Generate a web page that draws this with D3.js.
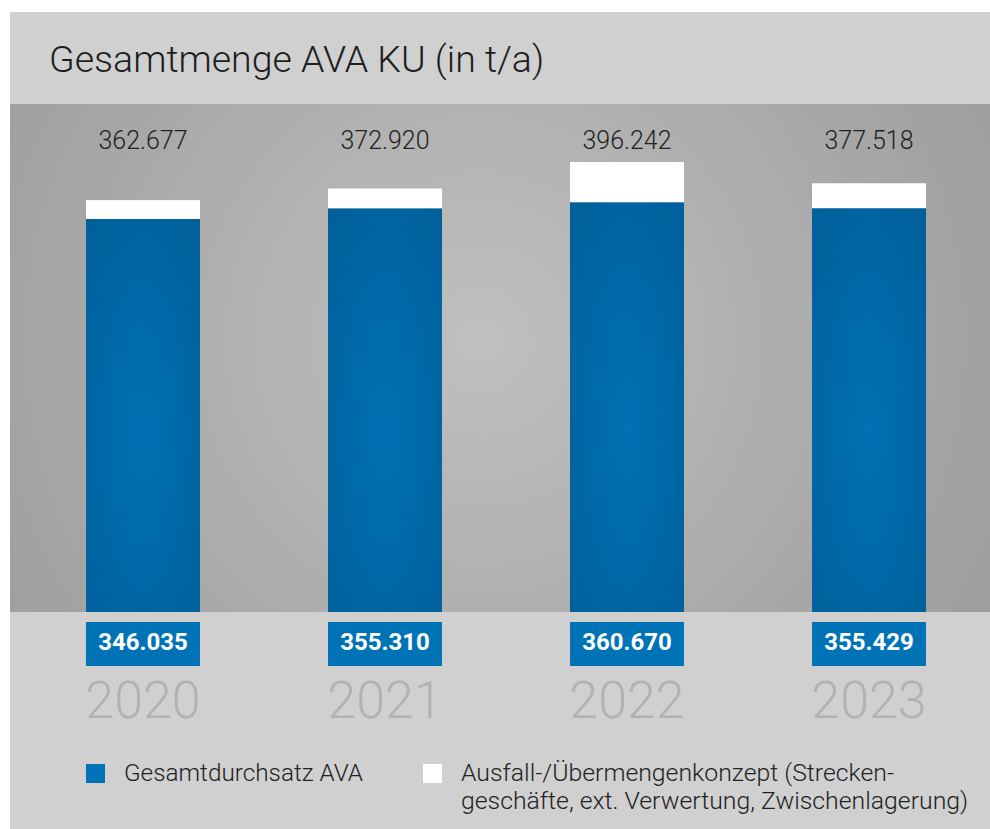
<!DOCTYPE html>
<meta charset="utf-8">
<style>
body{ margin:0; background:#fff; }
text{ font-family: Roboto, "Noto Sans", sans-serif; }
</style>
<script src="https://d3js.org/d3.v7.min.js"></script>
<svg id="chart"></svg>
<script>
// chart data
var years = ["2020", "2021", "2022", "2023"];
var durchsatz = [346035, 355310, 360670, 355429];   // Gesamtdurchsatz AVA
var gesamt = [362677, 372920, 396242, 377518];      // total incl. Ausfall-/Übermengenkonzept
var legendLabels = ["Gesamtdurchsatz AVA", "Ausfall-/Übermengenkonzept (Strecken-", "geschäfte, ext. Verwertung, Zwischenlagerung)"];
var title = "Gesamtmenge AVA KU (in t/a)";

var W = 990, H = 829;
var card = {left: 10, top: 12},
  plotTop = 104, plotBottom = 612;

var fmt = d3.format(",d");
function deNum(v){ return fmt(v).replace(/,/g, "."); }

var svg = d3.select("#chart").attr("width", W).attr("height", H);

var defs = svg.append("defs");
var bg = defs.append("radialGradient").attr("id", "bgGrad")
  .attr("gradientUnits", "userSpaceOnUse")
  .attr("cx", 480).attr("cy", 340).attr("r", 560);
bg.append("stop").attr("offset", "0%").attr("stop-color", "#c0c0c0");
bg.append("stop").attr("offset", "100%").attr("stop-color", "#9e9e9e");

var bl = defs.append("radialGradient").attr("id", "barGrad")
  .attr("cx", "50%").attr("cy", "55%").attr("r", "75%");
bl.append("stop").attr("offset", "0%").attr("stop-color", "#0071b3");
bl.append("stop").attr("offset", "100%").attr("stop-color", "#005f99");

// panels
svg.append("rect").attr("x", card.left).attr("y", card.top)
  .attr("width", W - card.left).attr("height", plotTop - card.top).attr("fill", "#d0d0d0");
svg.append("rect").attr("x", card.left).attr("y", plotTop)
  .attr("width", W - card.left).attr("height", plotBottom - plotTop).attr("fill", "url(#bgGrad)");
svg.append("rect").attr("x", card.left).attr("y", plotBottom)
  .attr("width", W - card.left).attr("height", H - plotBottom).attr("fill", "#d0d0d0");

svg.append("text").attr("x", 49).attr("y", 72)
  .attr("font-size", 37.5).attr("font-weight", 300).attr("fill", "#1e1e1e")
  .text(title);

// scales
var x = d3.scaleBand().domain(years).range([86, 926]).paddingInner(0.529).paddingOuter(0);
var y = d3.scaleLinear().domain([0, 396242]).range([plotBottom, 162]);

var g = svg.append("g");

// white stack (total)
g.selectAll(".tot").data(years).enter().append("rect")
  .attr("x", d => x(d)).attr("width", x.bandwidth())
  .attr("y", (d, i) => y(gesamt[i]))
  .attr("height", (d, i) => y(durchsatz[i]) - y(gesamt[i]))
  .attr("fill", "#fff");

// blue bars
g.selectAll(".blue").data(years).enter().append("rect")
  .attr("x", d => x(d)).attr("width", x.bandwidth())
  .attr("y", (d, i) => y(durchsatz[i]))
  .attr("height", (d, i) => plotBottom - y(durchsatz[i]))
  .attr("fill", "url(#barGrad)");

// total labels
g.selectAll(".totlab").data(years).enter().append("text")
  .attr("x", d => x(d) + x.bandwidth() / 2).attr("y", 149)
  .attr("text-anchor", "middle").attr("font-size", 25).attr("font-weight", 300)
  .attr("fill", "#222")
  .text((d, i) => deNum(gesamt[i]));

// value boxes
g.selectAll(".box").data(years).enter().append("rect")
  .attr("x", d => x(d)).attr("width", x.bandwidth())
  .attr("y", 622).attr("height", 44).attr("fill", "#0073b7");
g.selectAll(".boxlab").data(years).enter().append("text")
  .attr("x", d => x(d) + x.bandwidth() / 2).attr("y", 650)
  .attr("text-anchor", "middle").attr("font-size", 24).attr("font-weight", 700)
  .attr("fill", "#fff")
  .text((d, i) => deNum(durchsatz[i]));

// year labels
g.selectAll(".year").data(years).enter().append("text")
  .attr("x", d => x(d) + x.bandwidth() / 2).attr("y", 718)
  .attr("text-anchor", "middle").attr("font-size", 52).attr("font-weight", 300)
  .attr("fill", "#b2b2b2")
  .text(d => d);

// legend
var lg = svg.append("g");
lg.append("rect").attr("x", 86).attr("y", 764).attr("width", 19).attr("height", 19).attr("fill", "#0073b7");
lg.append("text").attr("x", 124).attr("y", 781).attr("font-size", 24.3).attr("font-weight", 300)
  .attr("fill", "#222").text(legendLabels[0]);
lg.append("rect").attr("x", 423).attr("y", 764).attr("width", 19).attr("height", 19).attr("fill", "#fff");
lg.append("text").attr("x", 461).attr("y", 781).attr("font-size", 24.8).attr("font-weight", 300)
  .attr("fill", "#222").text(legendLabels[1]);
lg.append("text").attr("x", 461).attr("y", 809).attr("font-size", 24.8).attr("font-weight", 300)
  .attr("fill", "#222").text(legendLabels[2]);
</script>
